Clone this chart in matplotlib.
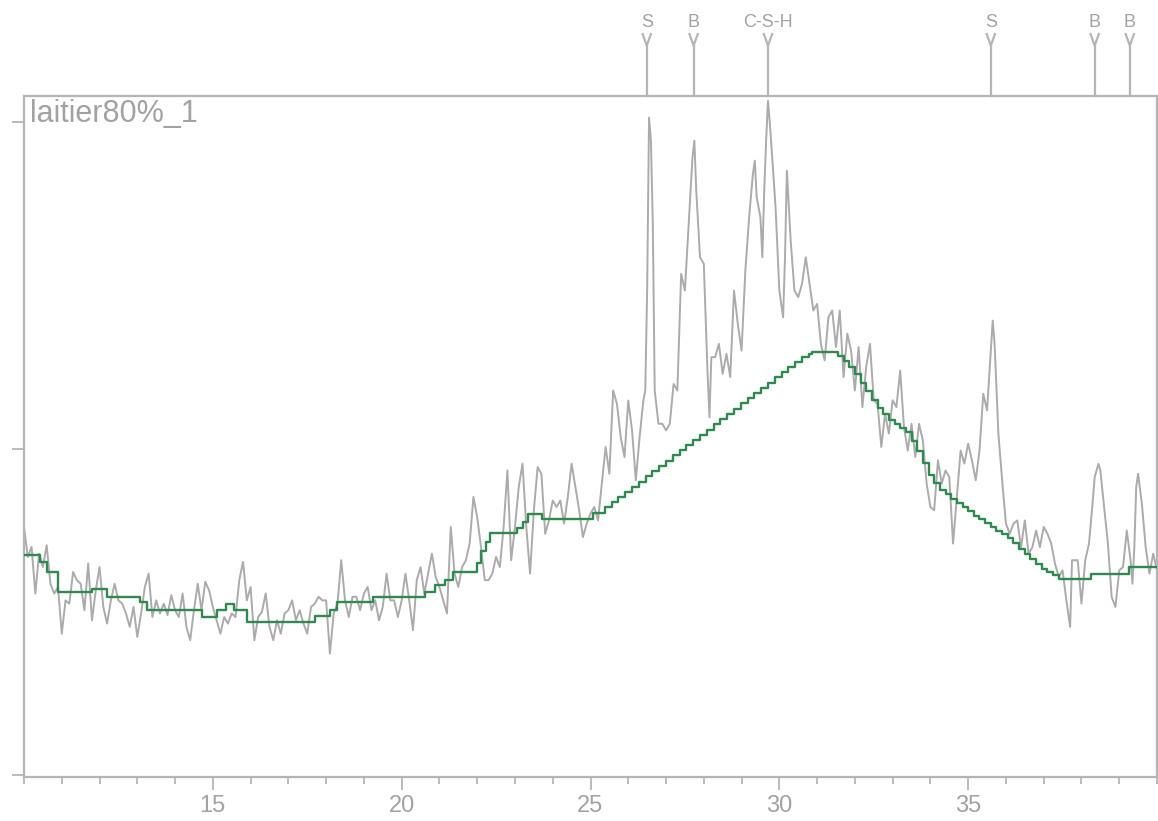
import matplotlib
matplotlib.use("Agg")
import matplotlib.pyplot as plt
from matplotlib.ticker import MultipleLocator, NullFormatter

plt.rcParams['font.family'] = ['Liberation Sans', 'DejaVu Sans']

# ---------------- data ----------------
sample_name = "laitier80%_1"

two_theta = [
    10.0, 10.1, 10.2, 10.3, 10.4, 10.5, 10.6, 10.7, 10.8, 10.9,
    11.0, 11.1, 11.2, 11.3, 11.4, 11.5, 11.6, 11.7, 11.8, 11.9,
    12.0, 12.1, 12.2, 12.3, 12.4, 12.5, 12.6, 12.7, 12.8, 12.9,
    13.0, 13.1, 13.2, 13.3, 13.4, 13.5, 13.6, 13.7, 13.8, 13.9,
    14.0, 14.1, 14.2, 14.3, 14.4, 14.5, 14.6, 14.7, 14.8, 14.9,
    15.0, 15.1, 15.2, 15.3, 15.4, 15.5, 15.6, 15.7, 15.8, 15.9,
    16.0, 16.1, 16.2, 16.3, 16.4, 16.5, 16.6, 16.7, 16.8, 16.9,
    17.0, 17.1, 17.2, 17.3, 17.4, 17.5, 17.6, 17.7, 17.8, 17.9,
    18.0, 18.1, 18.2, 18.3, 18.4, 18.5, 18.6, 18.7, 18.8, 18.9,
    19.0, 19.1, 19.2, 19.3, 19.4, 19.5, 19.6, 19.7, 19.8, 19.9,
    20.0, 20.1, 20.2, 20.3, 20.4, 20.5, 20.6, 20.7, 20.8, 20.9,
    21.0, 21.1, 21.2, 21.3, 21.4, 21.5, 21.6, 21.7, 21.8, 21.9,
    22.0, 22.1, 22.2, 22.3, 22.4, 22.5, 22.6, 22.7, 22.8, 22.9,
    23.0, 23.1, 23.2, 23.3, 23.4, 23.5, 23.6, 23.7, 23.8, 23.9,
    24.0, 24.1, 24.2, 24.3, 24.4, 24.5, 24.6, 24.7, 24.8, 24.9,
    25.0, 25.1, 25.2, 25.3, 25.4, 25.5, 25.6, 25.7, 25.8, 25.9,
    26.0, 26.1, 26.2, 26.3, 26.4, 26.45, 26.5, 26.55, 26.6, 26.65,
    26.7, 26.8, 26.9, 27.0, 27.1, 27.2, 27.3, 27.4, 27.5, 27.6,
    27.7, 27.75, 27.8, 27.9, 28.0, 28.1, 28.15, 28.2, 28.3, 28.4,
    28.5, 28.6, 28.7, 28.8, 28.9, 29.0, 29.1, 29.2, 29.3, 29.35,
    29.4, 29.5, 29.55, 29.6, 29.65, 29.7, 29.75, 29.8, 29.9, 30.0,
    30.1, 30.15, 30.2, 30.3, 30.4, 30.5, 30.6, 30.7, 30.8, 30.9,
    31.0, 31.1, 31.2, 31.3, 31.4, 31.5, 31.6, 31.7, 31.8, 31.9,
    32.0, 32.1, 32.2, 32.3, 32.4, 32.5, 32.6, 32.7, 32.8, 32.9,
    33.0, 33.1, 33.2, 33.3, 33.4, 33.5, 33.6, 33.7, 33.8, 33.9,
    34.0, 34.1, 34.2, 34.3, 34.4, 34.5, 34.6, 34.7, 34.8, 34.9,
    35.0, 35.1, 35.2, 35.3, 35.4, 35.5, 35.6, 35.65, 35.7, 35.8,
    35.9, 36.0, 36.1, 36.2, 36.3, 36.4, 36.5, 36.6, 36.7, 36.8,
    36.9, 37.0, 37.1, 37.2, 37.3, 37.4, 37.5, 37.6, 37.7, 37.75,
    37.8, 37.9, 38.0, 38.1, 38.2, 38.3, 38.35, 38.4, 38.45, 38.5,
    38.6, 38.7, 38.8, 38.9, 39.0, 39.1, 39.2, 39.3, 39.35, 39.4,
    39.45, 39.5, 39.6, 39.7, 39.8, 39.9, 40.0,
]

intensity = [
    760, 668, 699, 556, 678, 637, 704, 586, 556, 576,
    433, 535, 525, 622, 597, 586, 505, 648, 474, 566,
    637, 515, 464, 535, 586, 535, 525, 495, 454, 515,
    423, 495, 576, 617, 484, 535, 495, 525, 490, 551,
    505, 484, 556, 454, 413, 505, 586, 505, 592, 566,
    515, 474, 433, 484, 464, 495, 484, 597, 653, 535,
    576, 413, 484, 500, 556, 454, 413, 474, 433, 495,
    505, 535, 474, 505, 464, 433, 515, 525, 546, 535,
    535, 372, 495, 525, 658, 535, 484, 546, 546, 505,
    556, 576, 505, 535, 474, 515, 617, 535, 535, 484,
    535, 617, 535, 444, 597, 637, 556, 617, 678, 607,
    576, 535, 495, 760, 617, 576, 637, 658, 709, 852,
    790, 699, 597, 597, 617, 668, 637, 760, 933, 658,
    760, 882, 954, 760, 617, 811, 943, 923, 739, 780,
    841, 821, 841, 770, 852, 954, 882, 811, 729, 770,
    801, 821, 780, 892, 1005, 923, 1178, 1137, 1035, 974,
    1147, 1056, 903, 1035, 1147, 1178, 1484, 2014, 1943, 1688,
    1178, 1076, 1076, 1056, 1076, 1198, 1178, 1535, 1484, 1688,
    1892, 1943, 1790, 1586, 1566, 1229, 1096, 1280, 1280, 1321,
    1229, 1290, 1219, 1484, 1382, 1300, 1545, 1708, 1841, 1882,
    1770, 1708, 1586, 1790, 1943, 2065, 1994, 1912, 1739, 1484,
    1402, 1586, 1851, 1637, 1484, 1464, 1504, 1586, 1504, 1423,
    1443, 1321, 1270, 1402, 1423, 1311, 1423, 1219, 1352, 1300,
    1178, 1311, 1127, 1250, 1321, 1148, 1137, 1005, 1107, 1046,
    1148, 1127, 1239, 1066, 994, 1076, 974, 1076, 1025, 893,
    821, 811, 964, 893, 933, 913, 709, 852, 994, 954,
    1015, 964, 903, 994, 1168, 1117, 1300, 1392, 1321, 1046,
    903, 770, 739, 770, 780, 698, 780, 678, 698, 749,
    698, 760, 739, 709, 647, 607, 627, 535, 454, 658,
    658, 658, 525, 658, 709, 841, 913, 933, 953, 933,
    821, 709, 545, 515, 627, 637, 749, 658, 586, 698,
    882, 923, 831, 698, 617, 678, 627,
]

background_x = [
    10.00, 10.42, 10.62, 10.89, 11.81, 12.19, 13.06, 13.27, 14.70, 15.12,
    15.36, 15.55, 15.90, 17.70, 18.10, 18.28, 19.23, 20.61, 20.87, 21.14,
    21.35, 21.99, 22.10, 22.22, 22.35, 23.05, 23.20, 23.34, 23.71, 25.06,
    25.38, 25.56, 25.74, 25.92, 26.10, 26.28, 26.46, 26.64, 26.82, 27.00,
    27.18, 27.36, 27.54, 27.72, 27.90, 28.08, 28.26, 28.44, 28.62, 28.80,
    28.98, 29.16, 29.34, 29.52, 29.70, 29.88, 30.06, 30.24, 30.42, 30.60,
    30.78, 30.86, 31.55, 31.70, 31.85, 32.00, 32.15, 32.30, 32.45, 32.60,
    32.75, 32.90, 33.05, 33.20, 33.35, 33.50, 33.65, 33.80, 33.95, 34.10,
    34.25, 34.40, 34.55, 34.70, 34.85, 35.00, 35.15, 35.30, 35.45, 35.60,
    35.75, 35.90, 36.05, 36.20, 36.35, 36.50, 36.65, 36.80, 36.95, 37.10,
    37.25, 37.40, 38.25, 39.25, 40.00,
]

background_y = [
    673, 652, 621, 560, 569, 545, 529, 505, 483, 505,
    523, 505, 468, 487, 505, 529, 545, 560, 581, 597,
    621, 650, 685, 715, 741, 756, 774, 799, 783, 802,
    820, 835, 851, 868, 882, 899, 915, 930, 948, 963,
    979, 996, 1010, 1027, 1043, 1058, 1075, 1090, 1107, 1122,
    1139, 1154, 1171, 1187, 1202, 1219, 1234, 1250, 1266, 1281,
    1290, 1296, 1285, 1268, 1250, 1228, 1200, 1175, 1148, 1125,
    1105, 1088, 1075, 1063, 1050, 1022, 994, 955, 918, 895,
    873, 860, 845, 832, 820, 808, 795, 783, 771, 760,
    749, 738, 726, 710, 693, 677, 661, 646, 632, 622,
    614, 600, 615, 636, 636,
]

phase_positions = [26.49, 27.73, 29.70, 35.60, 38.35, 39.28]
phase_labels = ["S", "B", "C-S-H", "S", "B", "B"]

# ---------------- style ----------------
GRAY_LINE = "#ababab"
GREEN = "#2f8a4e"
AXIS_GRAY = "#b5b5b5"
TEXT_GRAY = "#a2a2a2"

fig = plt.figure(figsize=(11.58, 8.21), dpi=100)
fig.patch.set_facecolor("white")
ax = fig.add_axes([24 / 1158, 44 / 821, 1133 / 1158, 681 / 821])

ax.plot(two_theta, intensity, color=GRAY_LINE, lw=1.4, zorder=2)
ax.plot(background_x, background_y, color=GREEN, lw=1.7, drawstyle="steps-post", zorder=3)

ax.set_xlim(10, 40)
ax.set_ylim(-6, 2080)

for sp in ax.spines.values():
    sp.set_color(AXIS_GRAY)
    sp.set_linewidth(1.6)

ax.xaxis.set_major_locator(MultipleLocator(5))
ax.xaxis.set_minor_locator(MultipleLocator(1))
ax.yaxis.set_major_locator(MultipleLocator(1000))
ax.yaxis.set_major_formatter(NullFormatter())
ax.tick_params(axis="x", which="major", direction="out", length=9, width=1.3,
               color=AXIS_GRAY, labelcolor=TEXT_GRAY, labelsize=17, pad=4)
ax.tick_params(axis="x", which="minor", direction="out", length=5, width=1.3,
               color=AXIS_GRAY)
ax.tick_params(axis="y", which="major", direction="out", length=9, width=1.3,
               color=AXIS_GRAY, left=True, right=False)
ax.set_xticks([15, 20, 25, 30, 35])

ax.text(0.005, 0.995, sample_name, transform=ax.transAxes, ha="left", va="top",
        fontsize=22, color=TEXT_GRAY)

# phase markers above the plot
trans = ax.get_xaxis_transform()
stem_top = 1.074
arm_top = 1.091
arm_dx = 0.11
for pos, lab in zip(phase_positions, phase_labels):
    ax.plot([pos, pos], [1.0, stem_top], color=AXIS_GRAY, lw=1.6,
            transform=trans, clip_on=False)
    ax.plot([pos - arm_dx, pos, pos + arm_dx], [arm_top, stem_top, arm_top],
            color=AXIS_GRAY, lw=1.6, transform=trans, clip_on=False)
    ax.text(pos, 1.108, lab, transform=trans, ha="center", va="center",
            fontsize=13, color=TEXT_GRAY)

fig.savefig("out.png", dpi=100, facecolor="white")
